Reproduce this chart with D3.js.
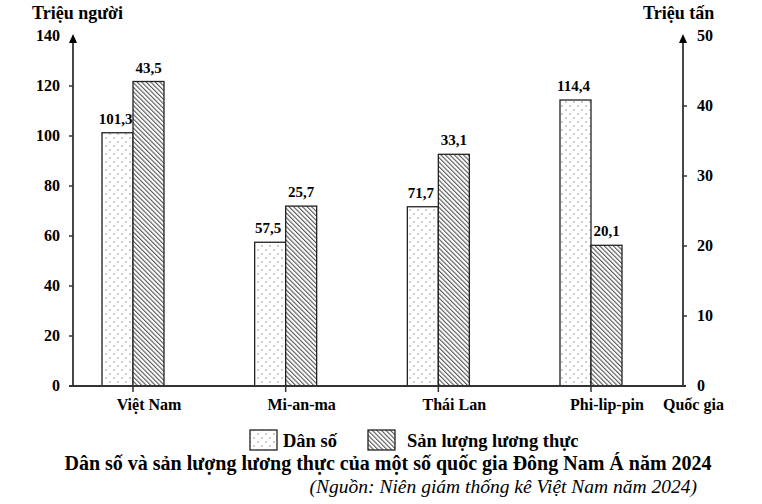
<!DOCTYPE html>
<html>
<head>
<meta charset="utf-8">
<script src="https://cdn.jsdelivr.net/npm/d3@7"></script>
<style>
  body { margin: 0; background: #fff; }
  text { font-family: "Liberation Serif", "Times New Roman", serif; }
</style>
</head>
<body>
<div id="main"></div>
<script>
let countries = ["Việt Nam", "Mi-an-ma", "Thái Lan", "Phi-lip-pin"];
let population = [101.3, 57.5, 71.7, 114.4];
let food = [43.5, 25.7, 33.1, 20.1];
let leftTicks = [0, 20, 40, 60, 80, 100, 120, 140];
let rightTicks = [0, 10, 20, 30, 40, 50];
let legendLabels = ["Dân số", "Sản lượng lương thực"];

let width = 762;
let height = 504;
let x0 = 73, x1 = 683;
let yTop = 36, yBottom = 386;
let barWidth = 31;

let svg = d3.select("#main")
    .append("svg")
    .attr("width", width)
    .attr("height", height);

let defs = svg.append("defs");

// dotted pattern
let dots = defs.append("pattern")
    .attr("id", "dots")
    .attr("patternUnits", "userSpaceOnUse")
    .attr("width", 8)
    .attr("height", 8);
dots.append("rect").attr("width", 8).attr("height", 8).attr("fill", "#fff");
dots.append("circle").attr("cx", 2).attr("cy", 2).attr("r", 0.7).attr("fill", "#777");
dots.append("circle").attr("cx", 6).attr("cy", 6).attr("r", 0.7).attr("fill", "#777");

// hatch pattern
let hatch = defs.append("pattern")
    .attr("id", "hatch")
    .attr("patternUnits", "userSpaceOnUse")
    .attr("width", 3.2)
    .attr("height", 3.2)
    .attr("patternTransform", "rotate(-45)");
hatch.append("rect").attr("width", 3.2).attr("height", 3.2).attr("fill", "#fff");
hatch.append("line")
    .attr("x1", 0).attr("y1", 0).attr("x2", 0).attr("y2", 3.2)
    .attr("stroke", "#555").attr("stroke-width", 2.2);

var xScale = d3.scalePoint().domain(countries).range([133, 591]);
var yLeft = d3.scaleLinear().domain([0, 140]).range([yBottom, yTop]);
var yRight = d3.scaleLinear().domain([0, 50]).range([yBottom, yTop]);

let g = svg.append("g");

// bars
g.selectAll("rect.pop")
    .data(countries)
    .enter()
    .append("rect")
    .attr("class", "pop")
    .attr("x", d => xScale(d) - barWidth)
    .attr("y", (d, i) => yLeft(population[i]))
    .attr("width", barWidth)
    .attr("height", (d, i) => yBottom - yLeft(population[i]))
    .attr("fill", "url(#dots)")
    .attr("stroke", "#222")
    .attr("stroke-width", 1.3);

g.selectAll("rect.food")
    .data(countries)
    .enter()
    .append("rect")
    .attr("class", "food")
    .attr("x", d => xScale(d))
    .attr("y", (d, i) => yRight(food[i]))
    .attr("width", barWidth)
    .attr("height", (d, i) => yBottom - yRight(food[i]))
    .attr("fill", "url(#hatch)")
    .attr("stroke", "#222")
    .attr("stroke-width", 1.3);

// value labels
g.selectAll("text.popv")
    .data(countries)
    .enter()
    .append("text")
    .attr("x", d => xScale(d) - barWidth / 2 - 2)
    .attr("y", (d, i) => yLeft(population[i]) - 9)
    .attr("text-anchor", "middle")
    .attr("font-size", 15)
    .attr("font-weight", "bold")
    .text((d, i) => String(population[i]).replace(".", ","));

g.selectAll("text.foodv")
    .data(countries)
    .enter()
    .append("text")
    .attr("x", d => xScale(d) + barWidth / 2)
    .attr("y", (d, i) => yRight(food[i]) - 9)
    .attr("text-anchor", "middle")
    .attr("font-size", 15)
    .attr("font-weight", "bold")
    .text((d, i) => String(food[i]).replace(".", ","));

// axes
let axisColor = "#333";
g.append("line")
    .attr("x1", x0).attr("x2", x0)
    .attr("y1", yBottom).attr("y2", yTop + 4)
    .attr("stroke", axisColor).attr("stroke-width", 1.8);
g.append("path")
    .attr("d", `M${x0},${yTop - 2}L${x0 - 4},${yTop + 7}L${x0 + 4},${yTop + 7}Z`)
    .attr("fill", "#000");
g.append("line")
    .attr("x1", x1).attr("x2", x1)
    .attr("y1", yBottom).attr("y2", yTop + 4)
    .attr("stroke", axisColor).attr("stroke-width", 1.8);
g.append("path")
    .attr("d", `M${x1},${yTop - 2}L${x1 - 4},${yTop + 7}L${x1 + 4},${yTop + 7}Z`)
    .attr("fill", "#000");
g.append("line")
    .attr("x1", x0 - 4).attr("x2", x1 + 3)
    .attr("y1", yBottom).attr("y2", yBottom)
    .attr("stroke", axisColor).attr("stroke-width", 1.8);

// left ticks
g.selectAll("line.lt")
    .data(leftTicks.slice(1, -1))
    .enter()
    .append("line")
    .attr("x1", x0 - 4).attr("x2", x0)
    .attr("y1", d => yLeft(d)).attr("y2", d => yLeft(d))
    .attr("stroke", axisColor).attr("stroke-width", 1.5);
g.selectAll("text.lt")
    .data(leftTicks)
    .enter()
    .append("text")
    .attr("x", 60)
    .attr("y", d => yLeft(d) + 5)
    .attr("text-anchor", "end")
    .attr("font-size", 16)
    .attr("font-weight", "bold")
    .text(d => d);

// right ticks
g.selectAll("line.rt")
    .data(rightTicks.slice(1, -1))
    .enter()
    .append("line")
    .attr("x1", x1).attr("x2", x1 + 4)
    .attr("y1", d => yRight(d)).attr("y2", d => yRight(d))
    .attr("stroke", axisColor).attr("stroke-width", 1.5);
g.selectAll("text.rt")
    .data(rightTicks)
    .enter()
    .append("text")
    .attr("x", 697)
    .attr("y", d => yRight(d) + 5)
    .attr("font-size", 16)
    .attr("font-weight", "bold")
    .text(d => d);

// category ticks and labels
g.selectAll("line.ct")
    .data(countries)
    .enter()
    .append("line")
    .attr("x1", d => xScale(d)).attr("x2", d => xScale(d))
    .attr("y1", yBottom).attr("y2", yBottom + 6)
    .attr("stroke", axisColor).attr("stroke-width", 1.5);
g.selectAll("text.ct")
    .data(countries)
    .enter()
    .append("text")
    .attr("x", d => xScale(d) + 16)
    .attr("y", 410)
    .attr("text-anchor", "middle")
    .attr("font-size", 16)
    .attr("font-weight", "bold")
    .text(d => d);

// axis titles
svg.append("text")
    .attr("x", 32).attr("y", 19)
    .attr("font-size", 18).attr("font-weight", "bold")
    .text("Triệu người");
svg.append("text")
    .attr("x", 643).attr("y", 19)
    .attr("font-size", 18).attr("font-weight", "bold")
    .text("Triệu tấn");
svg.append("text")
    .attr("x", 663).attr("y", 410)
    .attr("font-size", 16).attr("font-weight", "bold")
    .text("Quốc gia");

// legend
let legend = svg.append("g");
let legendX = [250, 368];
let legendTextX = [283, 407];
let legendFill = ["url(#dots)", "url(#hatch)"];
legend.selectAll("rect")
    .data(legendLabels)
    .enter()
    .append("rect")
    .attr("x", (d, i) => legendX[i])
    .attr("y", 430)
    .attr("width", 27)
    .attr("height", 20)
    .attr("fill", (d, i) => legendFill[i])
    .attr("stroke", "#222")
    .attr("stroke-width", 1.3);
legend.selectAll("text")
    .data(legendLabels)
    .enter()
    .append("text")
    .attr("x", (d, i) => legendTextX[i])
    .attr("y", 447)
    .attr("font-size", 18.5)
    .attr("font-weight", "bold")
    .text(d => d);

// title and source
svg.append("text")
    .attr("x", 388).attr("y", 470)
    .attr("text-anchor", "middle")
    .attr("font-size", 20).attr("font-weight", "bold")
    .text("Dân số và sản lượng lương thực của một số quốc gia Đông Nam Á năm 2024");
svg.append("text")
    .attr("x", 697).attr("y", 493)
    .attr("text-anchor", "end")
    .attr("font-size", 19.5).attr("font-style", "italic")
    .text("(Nguồn: Niên giám thống kê Việt Nam năm 2024)");
</script>
</body>
</html>
